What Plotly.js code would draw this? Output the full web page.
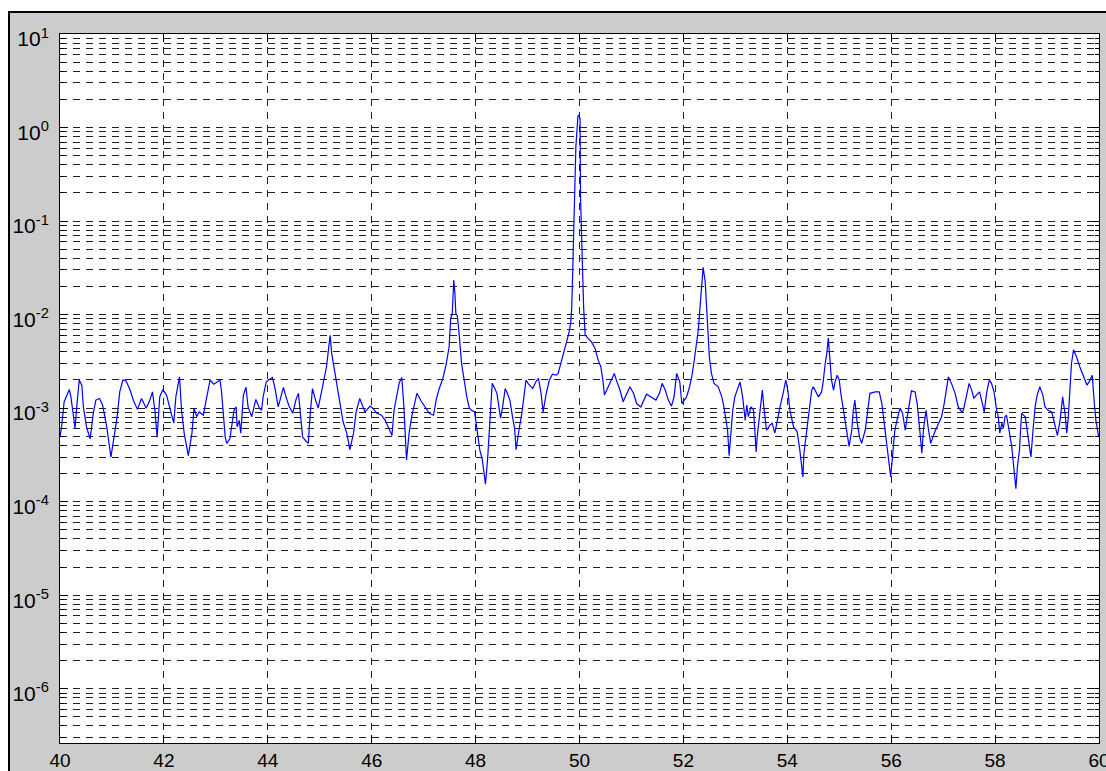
<!DOCTYPE html>
<html>
<head>
<meta charset="utf-8">
<script src="https://cdn.plot.ly/plotly-3.0.1.min.js"></script>
<style>
  html, body { margin: 0; padding: 0; background: #ffffff; overflow: hidden; }
  #frame {
    position: absolute; left: 8px; top: 11px;
    width: 1096px; height: 758px;
    border-top: 2px solid #000; border-left: 2px solid #000;
    background: #cccccc;
  }
  #chart { width: 1096px; height: 758px; }
</style>
</head>
<body>
<div id="frame"><div id="chart"></div></div>
<script>
// Spectrum magnitude around the 50 Hz line (frequency in Hz)
const freq = [
  40.00, 40.03, 40.08, 40.13, 40.18, 40.21, 40.29, 40.32, 40.37, 40.42,
  40.45, 40.51, 40.58, 40.64, 40.69, 40.76, 40.82, 40.90, 40.98, 41.04,
  41.10, 41.15, 41.21, 41.27, 41.35, 41.41, 41.49, 41.57, 41.66, 41.73,
  41.78, 41.83, 41.87, 41.92, 41.98, 42.05, 42.15, 42.19, 42.23, 42.30,
  42.34, 42.39, 42.47, 42.54, 42.58, 42.63, 42.68, 42.76, 42.82, 42.89,
  42.96, 43.08, 43.11, 43.18, 43.21, 43.27, 43.35, 43.39, 43.41, 43.45,
  43.48, 43.53, 43.58, 43.62, 43.69, 43.77, 43.84, 43.88, 43.91, 43.97,
  44.03, 44.09, 44.14, 44.20, 44.27, 44.30, 44.35, 44.41, 44.48, 44.54,
  44.59, 44.62, 44.67, 44.74, 44.78, 44.81, 44.86, 44.91, 44.97, 45.04,
  45.08, 45.13, 45.16, 45.20, 45.23, 45.27, 45.31, 45.38, 45.45, 45.52,
  45.58, 45.65, 45.70, 45.77, 45.83, 45.87, 45.97, 46.02, 46.10, 46.19,
  46.26, 46.34, 46.39, 46.43, 46.48, 46.53, 46.58, 46.62, 46.67, 46.72,
  46.77, 46.81, 46.87, 46.96, 47.03, 47.11, 47.19, 47.24, 47.30, 47.37,
  47.43, 47.49, 47.52, 47.55, 47.58, 47.60, 47.62, 47.65, 47.69, 47.73,
  47.78, 47.83, 47.88, 47.92, 47.98, 48.02, 48.05, 48.08, 48.13, 48.16,
  48.19, 48.23, 48.26, 48.29, 48.32, 48.37, 48.41, 48.44, 48.48, 48.52,
  48.57, 48.61, 48.66, 48.71, 48.75, 48.78, 48.81, 48.84, 48.89, 48.92,
  48.97, 49.01, 49.10, 49.16, 49.21, 49.26, 49.30, 49.36, 49.42, 49.48,
  49.55, 49.59, 49.64, 49.69, 49.75, 49.80, 49.83, 49.85, 49.87, 49.90,
  49.93, 49.97, 49.99, 50.01, 50.02, 50.05, 50.08, 50.11, 50.17, 50.23,
  50.30, 50.36, 50.41, 50.45, 50.48, 50.55, 50.62, 50.67, 50.72, 50.77,
  50.84, 50.91, 50.97, 51.04, 51.10, 51.18, 51.23, 51.29, 51.37, 51.47,
  51.54, 51.59, 51.65, 51.71, 51.77, 51.82, 51.87, 51.90, 51.93, 51.97,
  52.01, 52.06, 52.11, 52.16, 52.20, 52.24, 52.29, 52.32, 52.35, 52.38,
  52.42, 52.45, 52.47, 52.50, 52.54, 52.59, 52.67, 52.74, 52.78, 52.82,
  52.85, 52.88, 52.92, 52.95, 52.99, 53.04, 53.09, 53.14, 53.19, 53.22,
  53.25, 53.30, 53.35, 53.40, 53.42, 53.47, 53.52, 53.55, 53.60, 53.67,
  53.71, 53.76, 53.81, 53.86, 53.92, 53.97, 54.01, 54.05, 54.12, 54.19,
  54.24, 54.30, 54.32, 54.36, 54.40, 54.44, 54.47, 54.50, 54.57, 54.60,
  54.66, 54.69, 54.73, 54.76, 54.79, 54.82, 54.85, 54.89, 54.92, 54.96,
  55.00, 55.03, 55.07, 55.11, 55.15, 55.19, 55.24, 55.27, 55.30, 55.34,
  55.39, 55.43, 55.50, 55.55, 55.59, 55.69, 55.77, 55.82, 55.86, 55.91,
  55.96, 55.99, 56.03, 56.07, 56.12, 56.17, 56.22, 56.27, 56.31, 56.36,
  56.39, 56.46, 56.50, 56.55, 56.59, 56.62, 56.67, 56.71, 56.76, 56.84,
  56.91, 56.97, 57.02, 57.07, 57.10, 57.16, 57.23, 57.29, 57.36, 57.39,
  57.44, 57.50, 57.55, 57.59, 57.64, 57.70, 57.74, 57.79, 57.84, 57.89,
  57.93, 57.98, 58.03, 58.06, 58.09, 58.13, 58.16, 58.19, 58.22, 58.25,
  58.29, 58.32, 58.35, 58.38, 58.40, 58.43, 58.47, 58.49, 58.51, 58.58,
  58.62, 58.66, 58.69, 58.73, 58.77, 58.81, 58.86, 58.92, 58.96, 59.02,
  59.09, 59.13, 59.17, 59.20, 59.25, 59.30, 59.35, 59.38, 59.41, 59.44,
  59.47, 59.51, 59.57, 59.63, 59.70, 59.77, 59.83, 59.87, 59.91, 59.94,
  59.99, 60.00
];

const magnitude = [
  4.9e-4, 6.3e-4, 1.17e-3, 1.38e-3, 1.58e-3, 1.32e-3, 6.1e-4, 1.0e-3, 2.0e-3, 1.76e-3,
  1.03e-3, 6.3e-4, 4.7e-4, 8.8e-4, 1.22e-3, 1.27e-3, 1.08e-3, 6.3e-4, 3.0e-4, 4.9e-4,
  8.1e-4, 1.49e-3, 2.0e-3, 1.96e-3, 1.56e-3, 1.22e-3, 9.7e-4, 1.27e-3, 1.0e-3, 1.22e-3,
  1.49e-3, 9.1e-4, 4.9e-4, 1.32e-3, 1.58e-3, 1.38e-3, 8.8e-4, 6.9e-4, 1.32e-3, 2.16e-3,
  9.5e-4, 5.4e-4, 3.1e-4, 5.4e-4, 1.0e-3, 8.1e-4, 9.1e-4, 8.4e-4, 1.27e-3, 2.0e-3,
  1.8e-3, 2.0e-3, 1.49e-3, 4.9e-4, 4.2e-4, 4.7e-4, 9.5e-4, 1.03e-3, 6.3e-4, 7.4e-4,
  5.4e-4, 1.38e-3, 1.67e-3, 1.03e-3, 8.1e-4, 1.24e-3, 1.0e-3, 9.5e-4, 1.32e-3, 1.91e-3,
  2.03e-3, 2.13e-3, 1.62e-3, 1.03e-3, 1.44e-3, 1.67e-3, 1.32e-3, 1.05e-3, 8.8e-4, 1.22e-3,
  1.44e-3, 9.5e-4, 4.9e-4, 4.4e-4, 4.2e-4, 7.8e-4, 1.62e-3, 1.27e-3, 1.0e-3, 1.56e-3,
  2.0e-3, 2.77e-3, 3.85e-3, 6.0e-3, 3.85e-3, 2.88e-3, 2.0e-3, 1.22e-3, 7.1e-4, 5.4e-4,
  3.6e-4, 5.4e-4, 9.1e-4, 1.27e-3, 1.03e-3, 9.1e-4, 1.05e-3, 1.0e-3, 8.8e-4, 8.4e-4,
  7.4e-4, 5.8e-4, 5.1e-4, 9.5e-4, 1.32e-3, 1.87e-3, 2.13e-3, 1.03e-3, 2.8e-4, 5.4e-4,
  8.1e-4, 1.03e-3, 1.44e-3, 1.17e-3, 1.03e-3, 8.8e-4, 8.4e-4, 1.22e-3, 1.62e-3, 2.08e-3,
  2.88e-3, 4.5e-3, 9.1e-3, 1.01e-2, 2.34e-2, 1.74e-2, 1.03e-2, 9.6e-3, 5.6e-3, 3.0e-3,
  2.0e-3, 1.32e-3, 1.0e-3, 9.5e-4, 9.1e-4, 6.3e-4, 4.5e-4, 3.6e-4, 2.8e-4, 2.0e-4,
  1.54e-4, 2.8e-4, 5.4e-4, 1.22e-3, 1.84e-3, 1.62e-3, 1.44e-3, 1.12e-3, 7.8e-4, 1.03e-3,
  1.62e-3, 1.44e-3, 1.22e-3, 8.1e-4, 6.1e-4, 3.6e-4, 4.9e-4, 6.1e-4, 8.8e-4, 1.22e-3,
  2.0e-3, 1.84e-3, 1.62e-3, 1.91e-3, 2.08e-3, 1.44e-3, 9.1e-4, 1.44e-3, 2.0e-3, 2.31e-3,
  2.25e-3, 2.35e-3, 3.0e-3, 3.85e-3, 4.9e-3, 6.5e-3, 8.1e-3, 1.17e-2, 3.0e-2, 0.137,
  0.62, 1.33, 1.36, 1.25, 0.175, 0.045, 1.17e-2, 6.0e-3, 5.6e-3, 5.1e-3,
  4.35e-3, 3.26e-3, 2.77e-3, 2.0e-3, 1.38e-3, 1.69e-3, 2.0e-3, 2.35e-3, 1.91e-3, 1.62e-3,
  1.17e-3, 1.44e-3, 1.69e-3, 1.44e-3, 1.12e-3, 1.03e-3, 1.17e-3, 1.41e-3, 1.32e-3, 1.22e-3,
  1.44e-3, 1.84e-3, 1.56e-3, 1.22e-3, 1.05e-3, 1.32e-3, 2.35e-3, 2.08e-3, 1.91e-3, 1.12e-3,
  1.22e-3, 1.32e-3, 1.62e-3, 2.16e-3, 3.0e-3, 4.2e-3, 7.1e-3, 1.21e-2, 1.98e-2, 3.2e-2,
  2.24e-2, 1.17e-2, 6.3e-3, 3.5e-3, 2.35e-3, 1.84e-3, 1.69e-3, 1.32e-3, 1.03e-3, 6.9e-4,
  5.8e-4, 3.1e-4, 5.8e-4, 9.5e-4, 1.32e-3, 1.62e-3, 1.91e-3, 1.32e-3, 7.4e-4, 1.08e-3,
  8.1e-4, 1.03e-3, 9.5e-4, 3.4e-4, 4.9e-4, 8.8e-4, 1.56e-3, 1.0e-3, 5.8e-4, 6.6e-4,
  6.9e-4, 5.4e-4, 7.8e-4, 1.03e-3, 1.44e-3, 2.0e-3, 1.56e-3, 9.5e-4, 6.3e-4, 5.6e-4,
  3.6e-4, 1.84e-4, 3.3e-4, 4.9e-4, 8.1e-4, 1.12e-3, 1.56e-3, 1.69e-3, 1.44e-3, 1.32e-3,
  1.49e-3, 1.91e-3, 3.0e-3, 3.85e-3, 5.6e-3, 3.0e-3, 2.0e-3, 1.56e-3, 1.91e-3, 2.25e-3,
  2.0e-3, 1.44e-3, 1.03e-3, 6.9e-4, 4.9e-4, 3.9e-4, 5.8e-4, 9.5e-4, 1.22e-3, 7.4e-4,
  4.9e-4, 4.2e-4, 5.8e-4, 9.5e-4, 1.44e-3, 1.49e-3, 1.49e-3, 1.12e-3, 7.4e-4, 3.9e-4,
  2.36e-4, 1.84e-4, 3.3e-4, 5.8e-4, 7.8e-4, 1.0e-3, 8.8e-4, 5.8e-4, 8.1e-4, 1.27e-3,
  1.53e-3, 1.49e-3, 1.12e-3, 5.8e-4, 3.3e-4, 5.8e-4, 9.5e-4, 6.3e-4, 4.2e-4, 5.6e-4,
  6.9e-4, 8.1e-4, 1.12e-3, 1.84e-3, 2.16e-3, 1.84e-3, 1.44e-3, 1.03e-3, 9.1e-4, 9.5e-4,
  1.32e-3, 1.84e-3, 1.56e-3, 1.27e-3, 1.38e-3, 1.49e-3, 1.22e-3, 9.1e-4, 1.49e-3, 2.0e-3,
  1.84e-3, 1.49e-3, 9.5e-4, 8.1e-4, 5.4e-4, 6.9e-4, 6.1e-4, 8.1e-4, 8.4e-4, 6.9e-4,
  4.9e-4, 3.9e-4, 2.6e-4, 1.7e-4, 1.38e-4, 2.36e-4, 3.6e-4, 5.8e-4, 8.8e-4, 8.1e-4,
  5.8e-4, 3.9e-4, 3.0e-4, 5.8e-4, 1.03e-3, 1.38e-3, 1.69e-3, 1.38e-3, 1.03e-3, 9.5e-4,
  9.1e-4, 7.4e-4, 6.1e-4, 5.1e-4, 7.4e-4, 1.32e-3, 8.4e-4, 5.4e-4, 8.1e-4, 1.44e-3,
  3.0e-3, 4.2e-3, 3.5e-3, 2.77e-3, 2.16e-3, 1.76e-3, 2.0e-3, 2.25e-3, 1.12e-3, 7.4e-4,
  5.1e-4, 5.0e-4
];

const xTickValues = [40, 42, 44, 46, 48, 50, 52, 54, 56, 58, 60];
const decadeValues = [1e-6, 1e-5, 1e-4, 1e-3, 1e-2, 1e-1, 1e0, 1e1];
const decadeLabels = ['10<sup>-6</sup>', '10<sup>-5</sup>', '10<sup>-4</sup>', '10<sup>-3</sup>',
                      '10<sup>-2</sup>', '10<sup>-1</sup>', '10<sup>0</sup>', '10<sup>1</sup>'];

const gridColor = '#222222';
const gridDash = '7px,6px';
const yTickFont = { family: 'Liberation Sans, Arial, sans-serif', size: 21, color: '#000' };
const xTickFont = { family: 'Liberation Sans, Arial, sans-serif', size: 19, color: '#000' };

const trace = {
  x: freq,
  y: magnitude,
  type: 'scatter',
  mode: 'lines',
  line: { color: '#0000ff', width: 1.2 },
  hoverinfo: 'x+y'
};

const layout = {
  width: 1096,
  height: 758,
  margin: { l: 50, r: 7, t: 21, b: 28, pad: 0 },
  paper_bgcolor: '#cccccc',
  plot_bgcolor: '#ffffff',
  showlegend: false,
  xaxis: {
    range: [40, 60],
    tickmode: 'array',
    tickvals: xTickValues,
    ticktext: xTickValues.map(String),
    ticklabeloverflow: 'allow',
    ticklabelstandoff: 0,
    ticks: 'inside',
    ticklen: 8,
    tickcolor: '#000',
    showline: true,
    linecolor: '#000',
    linewidth: 1,
    mirror: 'ticks',
    showgrid: true,
    gridcolor: gridColor,
    griddash: gridDash,
    gridwidth: 1,
    zeroline: false,
    tickfont: xTickFont
  },
  yaxis: {
    type: 'log',
    range: [-6.58, 1],
    tickmode: 'array',
    tickvals: decadeValues,
    ticktext: decadeLabels,
    ticklabelstandoff: 6,
    ticklabelshift: 5,
    ticks: 'inside',
    ticklen: 8,
    tickcolor: '#000',
    showline: true,
    linecolor: '#000',
    linewidth: 1,
    mirror: 'ticks',
    showgrid: true,
    gridcolor: gridColor,
    griddash: gridDash,
    gridwidth: 1,
    zeroline: false,
    tickfont: yTickFont,
    minor: {
      dtick: 'D1',
      ticks: 'inside',
      ticklen: 4,
      tickcolor: '#000',
      showgrid: true,
      gridcolor: gridColor,
      griddash: gridDash,
      gridwidth: 1
    }
  }
};

Plotly.newPlot('chart', [trace], layout, { displayModeBar: false, staticPlot: true });
</script>
</body>
</html>
